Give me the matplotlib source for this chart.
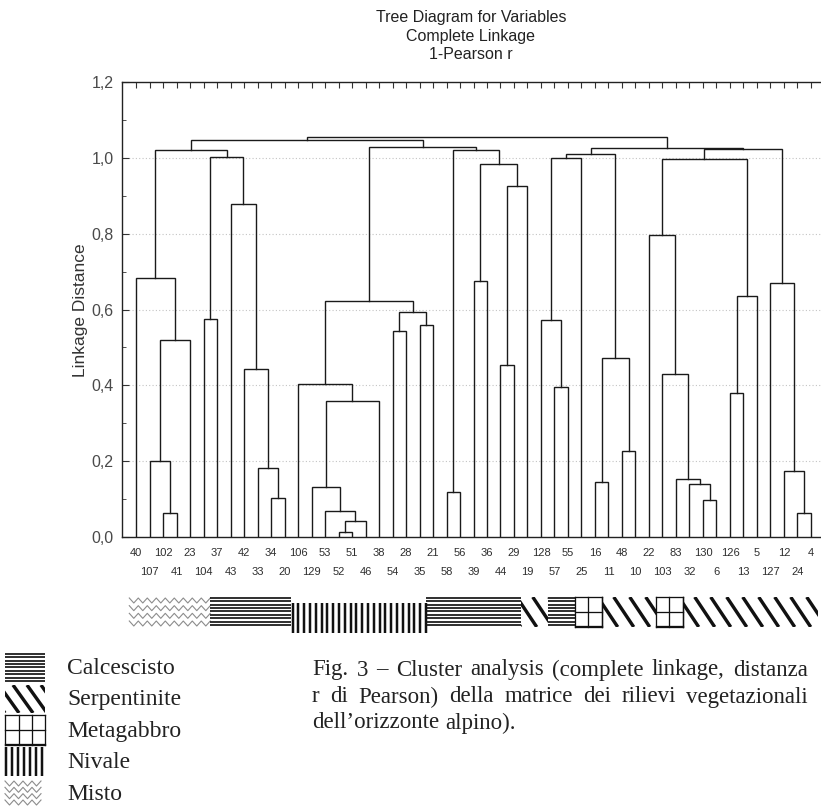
import numpy as np
import matplotlib
matplotlib.use("Agg")
import matplotlib.pyplot as plt
from matplotlib.patches import Rectangle
from matplotlib.ticker import MultipleLocator, FuncFormatter, FixedLocator

plt.rcParams['font.family'] = ['Liberation Sans', 'DejaVu Sans']

# ---------------- data ----------------
leaf_labels = [40, 107, 102, 41, 23, 104, 37, 43, 42, 33, 34, 20, 106, 129, 53, 52, 51,
               46, 38, 54, 28, 35, 21, 58, 56, 39, 36, 44, 29, 19, 128, 57, 55, 25, 16,
               11, 48, 10, 22, 103, 83, 32, 130, 6, 126, 13, 5, 127, 12, 24, 4]

# merges (scipy-like): ints are leaves, 'cK' is the K-th merge
merge_left = [102, 107, 'c1', 40, 104, 34, 33, 42, 43, 'c4', 'c3',
              52, 'c11', 53, 129, 'c14', 106, 54, 35, 'c17', 'c16',
              58, 39, 44, 'c23', 'c22', 'c21', 'c20', 'c10',
              57, 128, 'c30', 16, 48, 'c32', 'c31',
              130, 32, 83, 103, 22, 126, 'c41', 'c40', 24, 12, 127, 'c43', 'c35', 'c28']
merge_right = [41, 'c0', 23, 'c2', 37, 20, 'c5', 'c6', 'c7', 'c8', 'c9',
               51, 46, 'c12', 'c13', 38, 'c15', 28, 21, 'c18', 'c19',
               56, 36, 29, 19, 'c24', 'c25', 'c26', 'c27',
               55, 'c29', 25, 11, 10, 'c33', 'c34',
               6, 'c36', 'c37', 'c38', 'c39', 13, 5, 'c42', 4, 'c44', 'c45', 'c46', 'c47', 'c48']
merge_height = [0.064, 0.200, 0.520, 0.683, 0.575, 0.104, 0.183, 0.444, 0.879, 1.002, 1.020,
                0.013, 0.042, 0.068, 0.133, 0.358, 0.403, 0.542, 0.559, 0.593, 0.622,
                0.118, 0.674, 0.453, 0.927, 0.985, 1.020, 1.029, 1.046,
                0.396, 0.571, 1.000, 0.146, 0.228, 0.473, 1.009,
                0.097, 0.139, 0.153, 0.431, 0.796, 0.381, 0.635, 0.996, 0.064, 0.175, 0.670,
                1.024, 1.026, 1.055]

leaf_substrate = (['Misto'] * 6 + ['Calcescisto'] * 6 + ['Nivale'] * 10 + ['Calcescisto'] * 7 +
                  ['Serpentinite'] * 2 + ['Calcescisto'] * 2 + ['Metagabbro'] * 2 +
                  ['Serpentinite'] * 4 + ['Metagabbro'] * 2 + ['Serpentinite'] * 10)

legend_names = ['Calcescisto', 'Serpentinite', 'Metagabbro', 'Nivale', 'Misto']
y_ticks = [0.0, 0.2, 0.4, 0.6, 0.8, 1.0, 1.2]
title_lines = ['Tree Diagram for Variables', 'Complete Linkage', '1-Pearson r']
y_label = 'Linkage Distance'
caption_lines = ['Fig. 3 \u2013 Cluster analysis (complete linkage, distanza',
                 'r di Pearson) della matrice dei rilievi vegetazionali',
                 'dell\u2019orizzonte alpino).']

# ---------------- figure ----------------
W, H = 821, 808
fig = plt.figure(figsize=(W / 100, H / 100), dpi=100)
fig.patch.set_facecolor('white')
AX_L, AX_R, AX_T, AX_B = 122, 825, 82, 537
ax = fig.add_axes([AX_L / W, 1 - AX_B / H, (AX_R - AX_L) / W, (AX_B - AX_T) / H])

n = len(leaf_labels)
ax.set_xlim(-1.04, n - 1 + 1.04)
ax.set_ylim(0, 1.2)

line_col = '#1a1a1a'
pos = {lab: float(i) for i, lab in enumerate(leaf_labels)}
hgt = {lab: 0.0 for lab in leaf_labels}
for k, (a, b, h) in enumerate(zip(merge_left, merge_right, merge_height)):
    xa, xb = pos[a], pos[b]
    ax.plot([xa, xa, xb, xb], [hgt[a], h, h, hgt[b]], color=line_col, lw=1.0,
            solid_joinstyle='miter', zorder=3)
    pos['c%d' % k] = (xa + xb) / 2
    hgt['c%d' % k] = h

# axes styling
for s in ax.spines.values():
    s.set_color('#222222')
    s.set_linewidth(1.0)
ax.spines['right'].set_visible(False)
ax.yaxis.set_major_locator(FixedLocator(y_ticks))
ax.yaxis.set_minor_locator(MultipleLocator(0.1))
ax.yaxis.set_major_formatter(FuncFormatter(lambda v, p: ('%.1f' % v).replace('.', ',')))
ax.tick_params(axis='y', which='both', direction='in', left=True, right=False,
               labelsize=11.5, labelcolor='#4a4a4a', pad=6, color='#333333')
ax.tick_params(axis='y', which='major', length=5)
ax.tick_params(axis='y', which='minor', length=3)
ax.xaxis.set_major_locator(FixedLocator(range(n)))
ax.tick_params(axis='x', which='both', bottom=False, top=True, labelbottom=False,
               direction='in', length=4, color='#333333')
ax.yaxis.grid(True, which='major', linestyle=(0, (1, 2)), color='#c4c4c4', lw=0.8)
ax.set_axisbelow(True)

# leaf labels in two staggered rows
for i, lab in enumerate(leaf_labels):
    row = i % 2
    ax.annotate(str(lab), xy=(i, 0), xycoords=('data', 'axes fraction'),
                xytext=(0, -16 - 19 * row), textcoords='offset pixels',
                ha='center', va='center', fontsize=8, color='#2e2e2e')

# titles
fig.text(471 / W, 1 - 36 / H, '\n'.join(title_lines), ha='center', va='center',
         fontsize=11.5, linespacing=1.3, color='#222222')
fig.text(80 / W, 1 - 310 / H, y_label, rotation=90, ha='center', va='center',
         fontsize=12.5, color='#333333')

# ---------------- overlay in pixel coordinates ----------------
ov = fig.add_axes([0, 0, 1, 1])
ov.set_xlim(0, W)
ov.set_ylim(H, 0)
ov.axis('off')
PT = 0.72  # points per pixel at 100 dpi


def hlines_pat(x0, x1, y0, y1, sp, lw):
    for y in np.arange(y0 + lw / 2, y1, sp):
        ov.plot([x0, x1], [y, y], color='#111111', lw=lw * PT, solid_capstyle='butt')


def vlines_pat(x0, x1, y0, y1, sp, lw):
    for x in np.arange(x0 + lw / 2, x1, sp):
        ov.plot([x, x], [y0, y1], color='#111111', lw=lw * PT, solid_capstyle='butt')


def diag_pat(x0, x1, y0, y1, sp, lw, dx):
    rect = Rectangle((x0, y0), x1 - x0, y1 - y0, facecolor='none', edgecolor='none')
    ov.add_patch(rect)
    for x in np.arange(x0 - dx, x1 + sp, sp):
        ln, = ov.plot([x, x + dx], [y0, y1], color='#111111', lw=lw * PT,
                      solid_capstyle='butt')
        ln.set_clip_path(rect)


def grid_pat(x0, x1, y0, y1, sx, sy, lw):
    for x in np.arange(x0, x1 + 0.1, sx):
        ov.plot([x, x], [y0, y1], color='#111111', lw=lw * PT)
    ov.plot([x1, x1], [y0, y1], color='#111111', lw=lw * PT)
    for y in np.arange(y0, y1 + 0.1, sy):
        ov.plot([x0, x1], [y, y], color='#111111', lw=lw * PT)
    ov.plot([x0, x1], [y1, y1], color='#111111', lw=lw * PT)


def wave_pat(x0, x1, y0, y1, rows, wl, amp):
    for yc in np.linspace(y0 + amp + 1, y1 - amp - 1, rows):
        xs = np.arange(x0, x1 + 0.01, wl / 2)
        ys = yc + amp * np.where(np.arange(len(xs)) % 2 == 0, -1, 1)
        ov.plot(xs, ys, color='#8c8c8c', lw=0.8)


def draw_pattern(kind, x0, x1, y0, y1, legend=False):
    if kind == 'Calcescisto':
        hlines_pat(x0, x1, y0, y1, 3.4, 1.7)
    elif kind == 'Serpentinite':
        diag_pat(x0, x1, y0, y1, 14 if legend else 16, 3.4, 20)
    elif kind == 'Metagabbro':
        grid_pat(x0, x1, y0, y1, 13.5, 14.5, 1.3)
    elif kind == 'Nivale':
        vlines_pat(x0, x1, y0, y1, 6.0 if legend else 5.8, 2.5)
    elif kind == 'Misto':
        wave_pat(x0, x1, y0, y1, 4, 9, 2.5)


# substrate strip under the leaves
def leaf_px(v):
    return ax.transData.transform((v, 0))[0]


runs = []
start = 0
for i in range(1, n + 1):
    if i == n or leaf_substrate[i] != leaf_substrate[start]:
        runs.append((start, i - 1, leaf_substrate[start]))
        start = i
for i0, i1, kind in runs:
    x0, x1 = leaf_px(i0 - 0.5), leaf_px(i1 + 0.5)
    if kind == 'Nivale':
        y0, y1 = 603, 633
    else:
        y0, y1 = 597, 627
    draw_pattern(kind, x0, x1, y0, y1)

# legend at the bottom left
serif = ['Liberation Serif', 'DejaVu Serif']
leg_rows = [(653, 683), (685, 713), (715, 745), (747, 776), (780, 806)]
for name, (y0, y1) in zip(legend_names, leg_rows):
    draw_pattern(name, 5, 45, y0, y1, legend=True)
    ov.text(67, (y0 + y1) / 2 + 1, name, fontsize=17, family=serif, va='center',
            ha='left', color='#222222')

# justified caption
fig.canvas.draw()
rend = fig.canvas.get_renderer()


def word_width(w):
    t = ov.text(0, 0, w, fontsize=16.5, family=serif)
    bb = t.get_window_extent(rend)
    t.remove()
    return bb.width


cap_x0, cap_x1 = 312, 808
cap_y = [670, 697, 723]
space_w = word_width('a b') - word_width('ab')
for li, (line, yc) in enumerate(zip(caption_lines, cap_y)):
    words = line.split(' ')
    widths = [word_width(w) for w in words]
    if li < len(caption_lines) - 1 and len(words) > 1:
        gap = (cap_x1 - cap_x0 - sum(widths)) / (len(words) - 1)
    else:
        gap = space_w
    x = cap_x0
    for w, wd in zip(words, widths):
        ov.text(x, yc, w, fontsize=16.5, family=serif, va='center', ha='left', color='#222222')
        x += wd + gap

fig.savefig('out.png', dpi=100, facecolor='white')
